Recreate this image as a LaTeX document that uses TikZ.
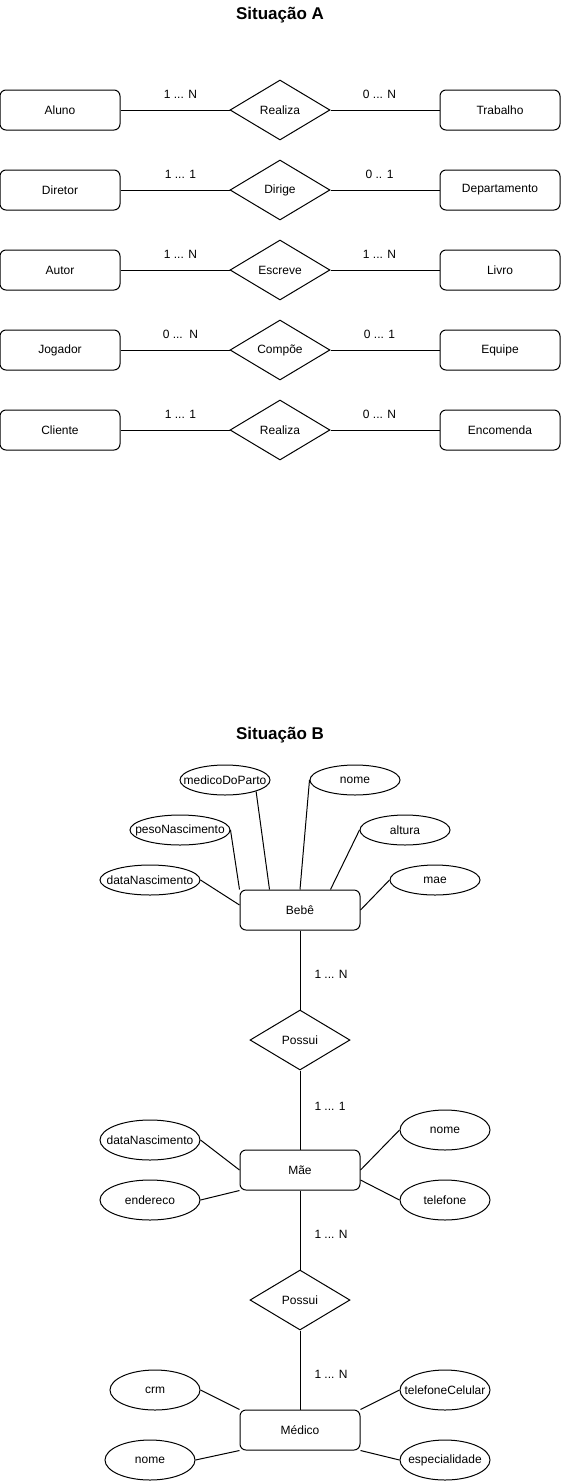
\documentclass[tikz,border=0pt]{standalone}
\usepackage{fontspec}
\setmainfont{Liberation Sans}
\usetikzlibrary{shapes}

\begin{document}
\begin{tikzpicture}
[x=1pt, y=-1pt, line width=1pt,
font=\fontsize{12}{14}\selectfont,
entity/.style ={rectangle, draw=black, rounded corners=6pt,
minimum width=120pt, minimum height=40pt, inner sep=0pt},
rel/.style ={diamond, draw=black, aspect=1.67,
minimum width=100pt, minimum height=60pt, inner sep=0pt},
attr/.style ={ellipse, draw=black,
minimum width=90pt, minimum height=40pt, inner sep=0pt},
card/.style ={inner sep=0pt},
title/.style ={font=\fontsize{17}{20}\selectfont\bfseries},
]
\useasboundingbox (0,0) rectangle (561,1481);

% Situacao A
\node [title] (sita) at (280,15) {Situação A};

% row 1
\node [entity] (aluno) at (60,110) {Aluno};
\node [rel] (rea1) at (280,110) {Realiza};
\node [entity] (trab) at (500,110) {Trabalho};

% row 2
\node [entity] (dir) at (60,190) {Diretor};
\node [rel] (dirige) at (280,190) {Dirige};
\node [entity] (dep) at (500,190) {Departamento};

% row 3
\node [entity] (autor) at (60,270) {Autor};
\node [rel] (esc) at (280,270) {Escreve};
\node [entity] (livro) at (500,270) {Livro};

% row 4
\node [entity] (jog) at (60,350) {Jogador};
\node [rel] (comp) at (280,350) {Compõe};
\node [entity] (equipe) at (500,350) {Equipe};

% row 5
\node [entity] (cli) at (60,430) {Cliente};
\node [rel] (rea2) at (280,430) {Realiza};
\node [entity] (enc) at (500,430) {Encomenda};

\draw (aluno) -- node [card, pos=.55, above=11pt] {1 ... N} (rea1);
\draw (rea1) -- node [card, pos=.45, above=11pt] {0 ... N} (trab);
\draw (dir) -- node [card, pos=.55, above=11pt] {1 ... 1} (dirige);
\draw (dirige) -- node [card, pos=.45, above=11pt] {0 .. 1} (dep);
\draw (autor) -- node [card, pos=.55, above=11pt] {1 ... N} (esc);
\draw (esc) -- node [card, pos=.45, above=11pt] {1 ... N} (livro);
\draw (jog) -- node [card, pos=.55, above=11pt] {0 ...\ \ N} (comp);
\draw (comp) -- node [card, pos=.45, above=11pt] {0 ... 1} (equipe);
\draw (cli) -- node [card, pos=.55, above=11pt] {1 ... 1} (rea2);
\draw (rea2) -- node [card, pos=.45, above=11pt] {0 ... N} (enc);

% Situacao B
\node [title] (sitb) at (280,735) {Situação B};

% Bebe
\node [entity] (bebe) at (300,910) {Bebê};
\node [attr, minimum height=30pt, label=center:medicoDoParto] (bmed) at (225,780) {};
\node [attr, minimum height=30pt, label=center:nome] (bnome) at (355,780) {};
\node [attr, minimum width=100pt, minimum height=30pt, label=center:pesoNascimento] (bpeso) at (180,830) {};
\node [attr, minimum height=30pt, label=center:altura] (balt) at (405,830) {};
\node [attr, minimum width=100pt, minimum height=30pt, label=center:dataNascimento] (bdata) at (150,880) {};
\node [attr, minimum height=30pt, label=center:mae] (bmae) at (435,880) {};

\node [rel] (pos1) at (300,1040) {Possui};

% Mae
\node [entity] (mae) at (300,1170) {Mãe};
\node [attr, minimum width=100pt, label=center:dataNascimento] (mdata) at (150,1140) {};
\node [attr, minimum width=100pt, label=center:endereco] (mend) at (150,1200) {};
\node [attr, label=center:nome] (mnome) at (445,1130) {};
\node [attr, label=center:telefone] (mtel) at (445,1200) {};

\node [rel] (pos2) at (300,1300) {Possui};

% Medico
\node [entity] (med) at (300,1430) {Médico};
\node [attr, label=center:crm] (dcrm) at (155,1390) {};
\node [attr, label=center:nome] (dnome) at (150,1460) {};
\node [attr, label=center:telefoneCelular] (dtel) at (445,1390) {};
\node [attr, label=center:especialidade] (desp) at (445,1460) {};

\draw (bebe) -- node [card, pos=.55, right=14pt] {1 ... N} (pos1);
\draw (pos1) -- node [card, pos=.45, right=14pt] {1 ... 1} (mae);
\draw (mae) -- node [card, pos=.55, right=14pt] {1 ... N} (pos2);
\draw (pos2) -- node [card, pos=.55, right=14pt] {1 ... N} (med);

\draw (bdata.east) -- ([yshift=5pt]bebe.west);
\draw (bpeso.east) -- (bebe.north west);
\draw (bmed.-20) -- ([xshift=30pt]bebe.north west);
\draw (bnome.west) -- (bebe.north);
\draw (balt.west) -- ([xshift=-30pt]bebe.north east);
\draw (bmae.west) -- (bebe.east);

\draw (mdata.east) -- (mae.west);
\draw (mend.east) -- (mae.south west);
\draw (mnome.west) -- (mae.east);
\draw (mtel.west) -- ([yshift=-10pt]mae.east);

\draw (dcrm.east) -- (med.north west);
\draw (dnome.east) -- (med.south west);
\draw (dtel.west) -- (med.north east);
\draw (desp.west) -- (med.south east);
\end{tikzpicture}
\end{document}
